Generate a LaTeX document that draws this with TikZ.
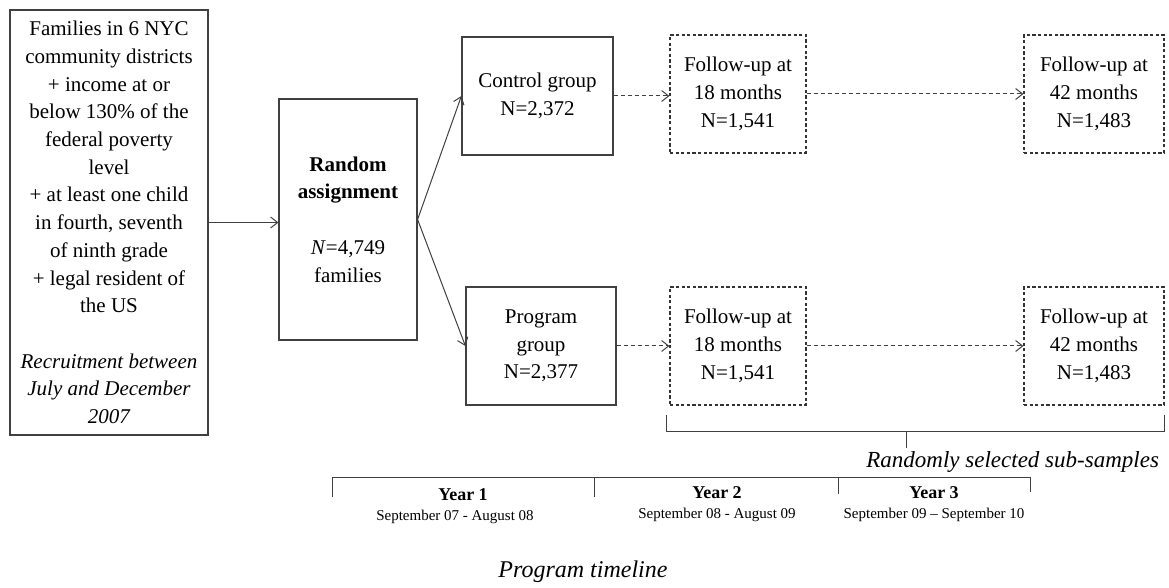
\documentclass[tikz,border=0pt]{standalone}
\usepackage{fontspec}
\setmainfont{Liberation Serif}
\usetikzlibrary{positioning,arrows,arrows.meta}

\tikzset{
  box/.style={draw=black!75, line width=0.6pt, align=center, inner sep=0pt,
              font=\fontsize{10.5}{13.85}\selectfont},
  fubox/.style={box, draw=black!80, line width=0.6pt, dash pattern=on 1.6pt off 1.2pt},
  link/.style={-{Straight Barb[length=3.5pt, width=5.5pt]}, draw=black!75, line width=0.5pt},
  dlink/.style={link, dash pattern=on 2pt off 1.5pt},
  yearlbl/.style={font=\fontsize{9}{10}\selectfont\bfseries},
  datelbl/.style={font=\fontsize{7.5}{9}\selectfont},
}

\begin{document}
\begin{tikzpicture}[x=0.5pt, y=-0.5pt]
    \useasboundingbox (0,0) rectangle (1169,588);

    % boxes
    \node[box, minimum width=99pt, minimum height=212.5pt] (pop) at (109,222.5)
      {Families in 6 NYC\\community districts\\+ income at or\\below 130\% of the\\federal poverty\\level\\+ at least one child\\in fourth, seventh\\of ninth grade\\+ legal resident of\\the US\\[13.85pt]
       \itshape Recruitment between\\\itshape July and December\\\itshape 2007};
    \node[box, minimum width=69pt, minimum height=120.5pt] (rand) at (348,219.5)
      {\bfseries Random\\\bfseries assignment\\[13.85pt]\textit{N}=4,749\\families};
    \node[box, minimum width=75.5pt, minimum height=59pt] (ctrl) at (537.5,96)
      {Control group\\N=2,372};
    \node[box, minimum width=75pt, minimum height=59pt] (prog) at (541,346)
      {Program\\group\\N=2,377};
    \node[fubox, minimum width=68pt, minimum height=59pt] (ctrlA) at (738,94)
      {Follow-up at\\18 months\\N=1,541};
    \node[fubox, minimum width=70pt, minimum height=59pt] (ctrlB) at (1094,94)
      {Follow-up at\\42 months\\N=1,483};
    \node[fubox, minimum width=68pt, minimum height=59pt] (progA) at (738,346)
      {Follow-up at\\18 months\\N=1,541};
    \node[fubox, minimum width=70pt, minimum height=59pt] (progB) at (1094,346)
      {Follow-up at\\42 months\\N=1,483};

    % arrows
    \draw[link] (pop.east) -- (pop.east -| rand.west);
    \draw[link] (rand.east) -- (ctrl.west);
    \draw[link] (rand.east) -- (prog.west);
    \draw[dlink] (ctrl.east) -- (ctrl.east -| ctrlA.west);
    \draw[dlink] (ctrlA.east) -- (ctrlA.east -| ctrlB.west);
    \draw[dlink] (prog.east) -- (prog.east -| progA.west);
    \draw[dlink] (progA.east) -- (progA.east -| progB.west);

    % sub-sample bracket
    \draw[black!75, line width=0.5pt] (666,415) -- (666,432) -- (1164,432) -- (1164,415);
    \draw[black!75, line width=0.5pt] (906,432) -- (906,448);
    \node[font=\fontsize{11.5}{13}\selectfont\itshape, anchor=east] (sub) at (1166,462)
      {Randomly selected sub-samples};

    % timeline
    \draw[black!75, line width=0.5pt] (332,497) -- (332,478) -- (1030,478) -- (1030,492);
    \draw[black!75, line width=0.5pt] (594,478) -- (594,497);
    \draw[black!75, line width=0.5pt] (838,478) -- (838,494);
    \node[yearlbl] (y1) at (463,495) {Year 1};
    \node[datelbl] (d1) at (455,517) {September 07 - August 08};
    \node[yearlbl] (y2) at (717,493) {Year 2};
    \node[datelbl] (d2) at (717,515) {September 08 - August 09};
    \node[yearlbl] (y3) at (934,493) {Year 3};
    \node[datelbl] (d3) at (934,515) {September 09 -- September 10};
    \node[font=\fontsize{12}{14}\selectfont\itshape] (tl) at (583,572) {Program timeline};
\end{tikzpicture}
\end{document}
